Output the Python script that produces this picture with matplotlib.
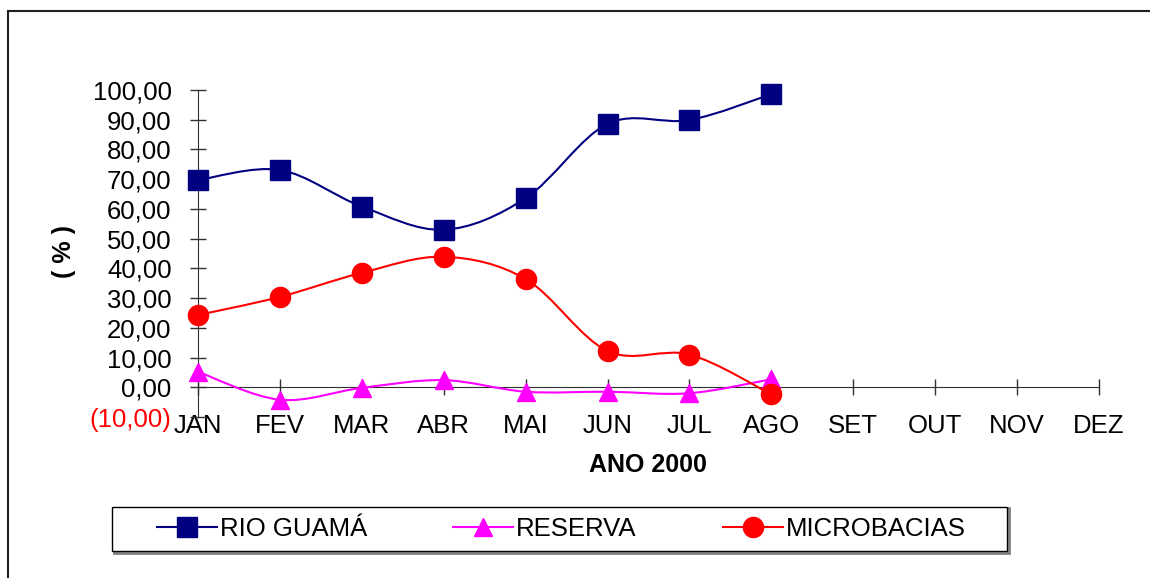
import matplotlib.pyplot as plt
import numpy as np
from matplotlib.path import Path
from matplotlib.patches import PathPatch, Rectangle
from matplotlib.lines import Line2D

plt.rcParams['font.family'] = ['Liberation Sans', 'DejaVu Sans']

# Months on the x axis and the three series (only Jan-Ago have data)
months = ["JAN", "FEV", "MAR", "ABR", "MAI", "JUN", "JUL", "AGO", "SET", "OUT", "NOV", "DEZ"]
rio_guama = [69.7, 73.1, 60.8, 53.0, 63.6, 88.6, 89.9, 98.6]
reserva = [5.2, -4.2, -0.2, 2.4, -1.5, -1.5, -2.0, 2.7]
microbacias = [24.3, 30.4, 38.5, 43.9, 36.4, 12.2, 11.0, -2.4]
y_ticks = [-10, 0, 10, 20, 30, 40, 50, 60, 70, 80, 90, 100]

series_names = ["RIO GUAMÁ", "RESERVA", "MICROBACIAS"]
series_colors = ["#000080", "#FF00FF", "#FF0000"]
series_markers = ["s", "^", "o"]
series_sizes = [14.5, 13, 14.5]


def smooth_path(xs, ys):
    # Excel style smoothed line: cubic Bezier segments (Catmull-Rom tangents)
    pts = np.column_stack([xs, ys]).astype(float)
    n = len(pts)
    verts = [pts[0]]
    codes = [Path.MOVETO]
    for i in range(n - 1):
        p_prev = pts[i - 1] if i > 0 else pts[i]
        p_next2 = pts[i + 2] if i + 2 < n else pts[i + 1]
        c1 = pts[i] + (pts[i + 1] - p_prev) / 6.0
        c2 = pts[i + 1] - (p_next2 - pts[i]) / 6.0
        verts += [c1, c2, pts[i + 1]]
        codes += [Path.CURVE4] * 3
    return Path(verts, codes)


W, H = 1150, 578
fig = plt.figure(figsize=(W / 100, H / 100), dpi=100)
ax = fig.add_axes([198 / W, 1 - 417 / H, 901 / W, 327 / H])

x = np.arange(len(months))
all_series = [rio_guama, reserva, microbacias]
for vals, col, mk, ms in zip(all_series, series_colors, series_markers, series_sizes):
    xs = x[:len(vals)]
    ax.add_patch(PathPatch(smooth_path(xs, vals), facecolor='none', edgecolor=col,
                           lw=1.5, clip_on=False, zorder=3))
    ax.plot(xs, vals, linestyle='none', marker=mk, markersize=ms, color=col,
            clip_on=False, zorder=4)

ax.set_xlim(0, len(months) - 1)
ax.set_ylim(-10, 100)

# axes lines and ticks
for side in ['top', 'right']:
    ax.spines[side].set_visible(False)
ax.spines['bottom'].set_position(('data', 0))
ax.spines['left'].set_color('#303030')
ax.spines['bottom'].set_color('#303030')

ax.set_xticks(x, labels=months)
ax.set_yticks(y_ticks, labels=[("(%.2f)" % abs(v) if v < 0 else "%.2f" % v).replace('.', ',')
                               for v in y_ticks])
ax.get_yticklabels()[0].set_color('red')
ax.tick_params(axis='both', direction='inout', length=11, width=1, color='#303030',
               labelsize=18.5, pad=13.5)

fig.text(648 / W, 1 - 465 / H, "ANO 2000", ha='center', va='center',
         fontsize=18, fontweight='bold')
fig.text(64 / W, 1 - 252 / H, "( % )", ha='center', va='center', rotation=90,
         fontsize=18, fontweight='bold')

# legend frame drawn separately so the padding can follow the original
fig.add_artist(Rectangle((114 / W, 1 - 553 / H), 895 / W, 45 / H, transform=fig.transFigure,
                         facecolor='none', edgecolor='#808080', lw=2))
fig.add_artist(Rectangle((112 / W, 1 - 551 / H), 895 / W, 44 / H, transform=fig.transFigure,
                         facecolor='white', edgecolor='black', lw=1))
handles = [Line2D([], [], color=c, marker=m, markersize=s, lw=1.5)
           for c, m, s in zip(series_colors, series_markers, series_sizes)]
fig.legend(handles, series_names, loc='center left', bbox_to_anchor=(157 / W, 1 - 529 / H),
           ncol=3, frameon=False, fontsize=18.5, handlelength=2.33, handletextpad=0.12,
           columnspacing=3.35, borderpad=0, borderaxespad=0)

# outer chart border (only left and top visible in the crop)
fig.add_artist(Rectangle((8 / W, -0.1), 1.2, 1 - 11 / H + 0.1, transform=fig.transFigure,
                         facecolor='none', edgecolor='#202020', lw=1.5))

fig.savefig("out.png", dpi=100)
